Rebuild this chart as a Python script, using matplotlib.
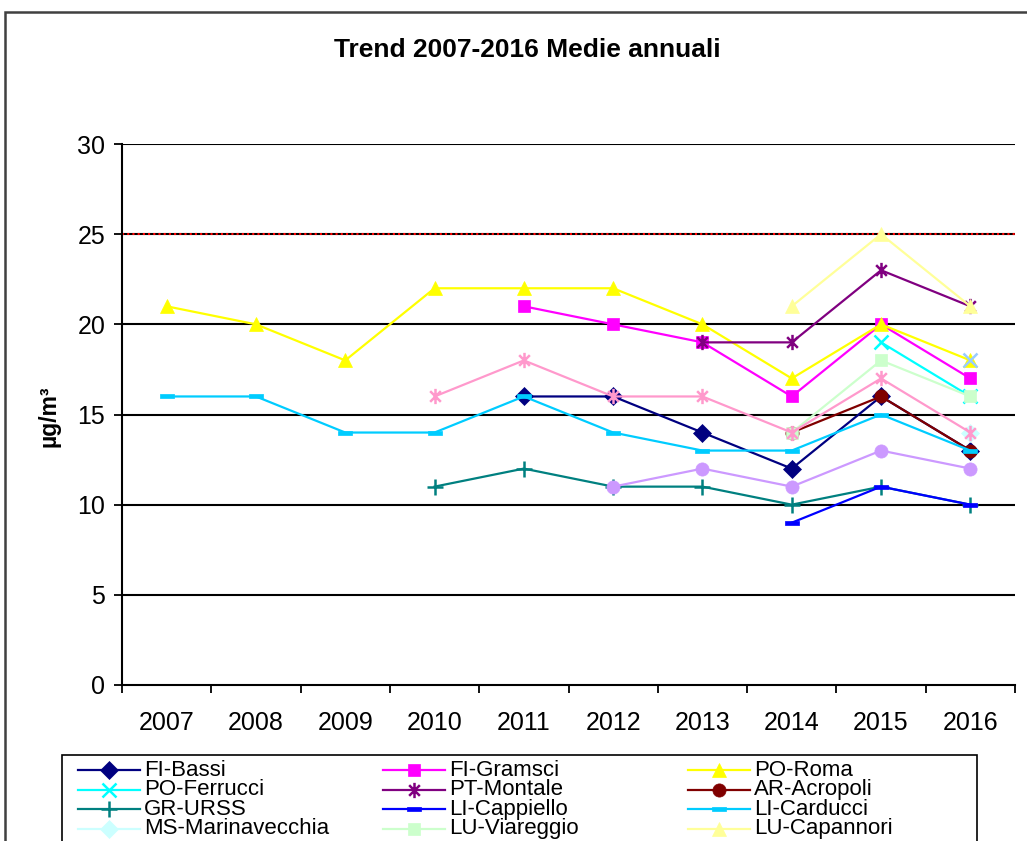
import numpy as np
import matplotlib
matplotlib.use("Agg")
import matplotlib.pyplot as plt
from matplotlib.lines import Line2D
from matplotlib.patches import Rectangle
from matplotlib.path import Path

plt.rcParams["font.family"] = ["Liberation Sans", "DejaVu Sans"]

nan = np.nan
years = ["2007", "2008", "2009", "2010", "2011", "2012", "2013", "2014", "2015", "2016"]

# annual means (µg/m3), NaN = no data
fi_bassi = [nan, nan, nan, nan, 16, 16, 14, 12, 16, 13]
fi_gramsci = [nan, nan, nan, nan, 21, 20, 19, 16, 20, 17]
po_roma = [21, 20, 18, 22, 22, 22, 20, 17, 20, 18]
po_ferrucci = [nan, nan, nan, nan, nan, nan, nan, nan, 19, 16]
pt_montale = [nan, nan, nan, nan, nan, nan, 19, 19, 23, 21]
ar_acropoli = [nan, nan, nan, nan, nan, nan, nan, 14, 16, 13]
gr_urss = [nan, nan, nan, 11, 12, 11, 11, 10, 11, 10]
li_cappiello = [nan, nan, nan, nan, nan, nan, nan, 9, 11, 10]
li_carducci = [16, 16, 14, 14, 16, 14, 13, 13, 15, 13]
ms_marinavecchia = [nan, nan, nan, nan, nan, nan, nan, nan, nan, 14]
lu_viareggio = [nan, nan, nan, nan, nan, nan, nan, 14, 18, 16]
lu_capannori = [nan, nan, nan, nan, nan, nan, nan, 21, 25, 21]
# series whose legend entries fall below the visible area
series_13 = [nan, nan, nan, nan, nan, nan, nan, nan, nan, 18]
series_14 = [nan, nan, nan, 16, 18, 16, 16, 14, 17, 14]
series_15 = [nan, nan, nan, nan, nan, 11, 12, 11, 13, 12]

limit_value = 25

# custom Excel-like markers
ASTERISK = Path([(0, -1), (0, 1), (-0.7, -0.7), (0.7, 0.7), (-0.7, 0.7), (0.7, -0.7)],
                [Path.MOVETO, Path.LINETO] * 3)
DASH = Path([(-1, -0.3), (1, -0.3), (1, 0.3), (-1, 0.3), (-1, -0.3)],
            [Path.MOVETO, Path.LINETO, Path.LINETO, Path.LINETO, Path.CLOSEPOLY])

# (label, values, color, marker, markersize, edge-only)
series = [
    ("FI-Bassi", fi_bassi, "#000080", "D", 9, False),
    ("FI-Gramsci", fi_gramsci, "#FF00FF", "s", 8.5, False),
    ("PO-Roma", po_roma, "#FFFF00", "^", 10.5, False),
    ("PO-Ferrucci", po_ferrucci, "#00FFFF", "x", 9.5, True),
    ("PT-Montale", pt_montale, "#800080", ASTERISK, 11, True),
    ("AR-Acropoli", ar_acropoli, "#800000", "o", 9.5, False),
    ("GR-URSS", gr_urss, "#008080", "+", 12, True),
    ("LI-Cappiello", li_cappiello, "#0000FF", DASH, 10, False),
    ("LI-Carducci", li_carducci, "#00CCFF", DASH, 10, False),
    ("MS-Marinavecchia", ms_marinavecchia, "#CCFFFF", "D", 9, False),
    ("LU-Viareggio", lu_viareggio, "#CCFFCC", "s", 8.5, False),
    ("LU-Capannori", lu_capannori, "#FFFF99", "^", 10.5, False),
    (None, series_13, "#99CCFF", "x", 9.5, True),
    (None, series_14, "#FF99CC", ASTERISK, 11, True),
    (None, series_15, "#CC99FF", "o", 9.5, False),
]

W, H = 1027, 841
fig = plt.figure(figsize=(W / 100, H / 100), dpi=100)
ax = fig.add_axes([122 / W, 1 - 685 / H, (1015 - 122) / W, (685 - 144) / H])

x = np.arange(len(years))

# gridlines + limit line
for v in [5, 10, 15, 20, 25, 30]:
    ax.axhline(v, color="black", lw=1.5, zorder=1)
ax.axhline(limit_value, color="red", lw=1.5, ls=(0, (1, 1.5)), zorder=1.5)

for label, vals, color, marker, ms, edge_only in series:
    kw = dict(color=color, lw=1.6, marker=marker, markersize=ms, zorder=3)
    if edge_only:
        kw.update(markeredgewidth=1.8, markerfacecolor="none", markeredgecolor=color)
    else:
        kw.update(markeredgewidth=0.5, markerfacecolor=color, markeredgecolor=color)
    ax.plot(x, vals, **kw)

ax.set_xlim(-0.5, len(years) - 0.5)
ax.set_ylim(0, 30)
ax.set_yticks(range(0, 31, 5))
ax.set_xticks(np.arange(-0.5, len(years), 1.0))
ax.set_xticklabels([])
ax.set_xticks(x, minor=True)
ax.set_xticklabels(years, minor=True)
ax.tick_params(axis="x", which="major", direction="out", length=6, width=1.3, color="black")
ax.tick_params(axis="x", which="minor", length=0, pad=19, labelsize=18)
ax.tick_params(axis="y", direction="out", length=6, width=1.3, pad=6, labelsize=18)
for s in ["top", "right"]:
    ax.spines[s].set_visible(False)
for s in ["left", "bottom"]:
    ax.spines[s].set_linewidth(1.5)
ax.set_facecolor("none")

fig.text(0.513, 1 - 50 / H, "Trend 2007-2016 Medie annuali", ha="center", va="center",
         fontsize=19, fontweight="bold")
fig.text(49 / W, 1 - 416 / H, "µg/m³", rotation=90, ha="center", va="center",
         fontsize=16.5, fontweight="bold")

# outer chart border (cropped at right/bottom)
fig.add_artist(Rectangle((5 / W, -0.1), 1.1, 1 - 12 / H + 0.1, transform=fig.transFigure,
                         fill=False, edgecolor="#404040", lw=1.8))

# legend box (cropped at bottom)
fig.add_artist(Rectangle((62 / W, -0.1), (977 - 62) / W, 1 - 755 / H + 0.1,
                         transform=fig.transFigure, fill=False, edgecolor="black", lw=1.2))
col_x = [78, 383, 688]
for i, (label, vals, color, marker, ms, edge_only) in enumerate(series[:12]):
    r, c = divmod(i, 3)
    yy = 1 - (770 + 19.6 * r) / H
    x0 = col_x[c]
    kw = dict(color=color, lw=1.6, marker=marker, markersize=ms, markevery=[1],
              transform=fig.transFigure)
    if edge_only:
        kw.update(markeredgewidth=1.8, markerfacecolor="none", markeredgecolor=color)
    else:
        kw.update(markeredgewidth=0.5, markerfacecolor=color, markeredgecolor=color)
    fig.add_artist(Line2D([x0 / W, (x0 + 31) / W, (x0 + 62) / W], [yy, yy, yy], **kw))
    fig.text((x0 + 66) / W, yy, label, ha="left", va="center", fontsize=16)

fig.savefig("out.png", dpi=100)
